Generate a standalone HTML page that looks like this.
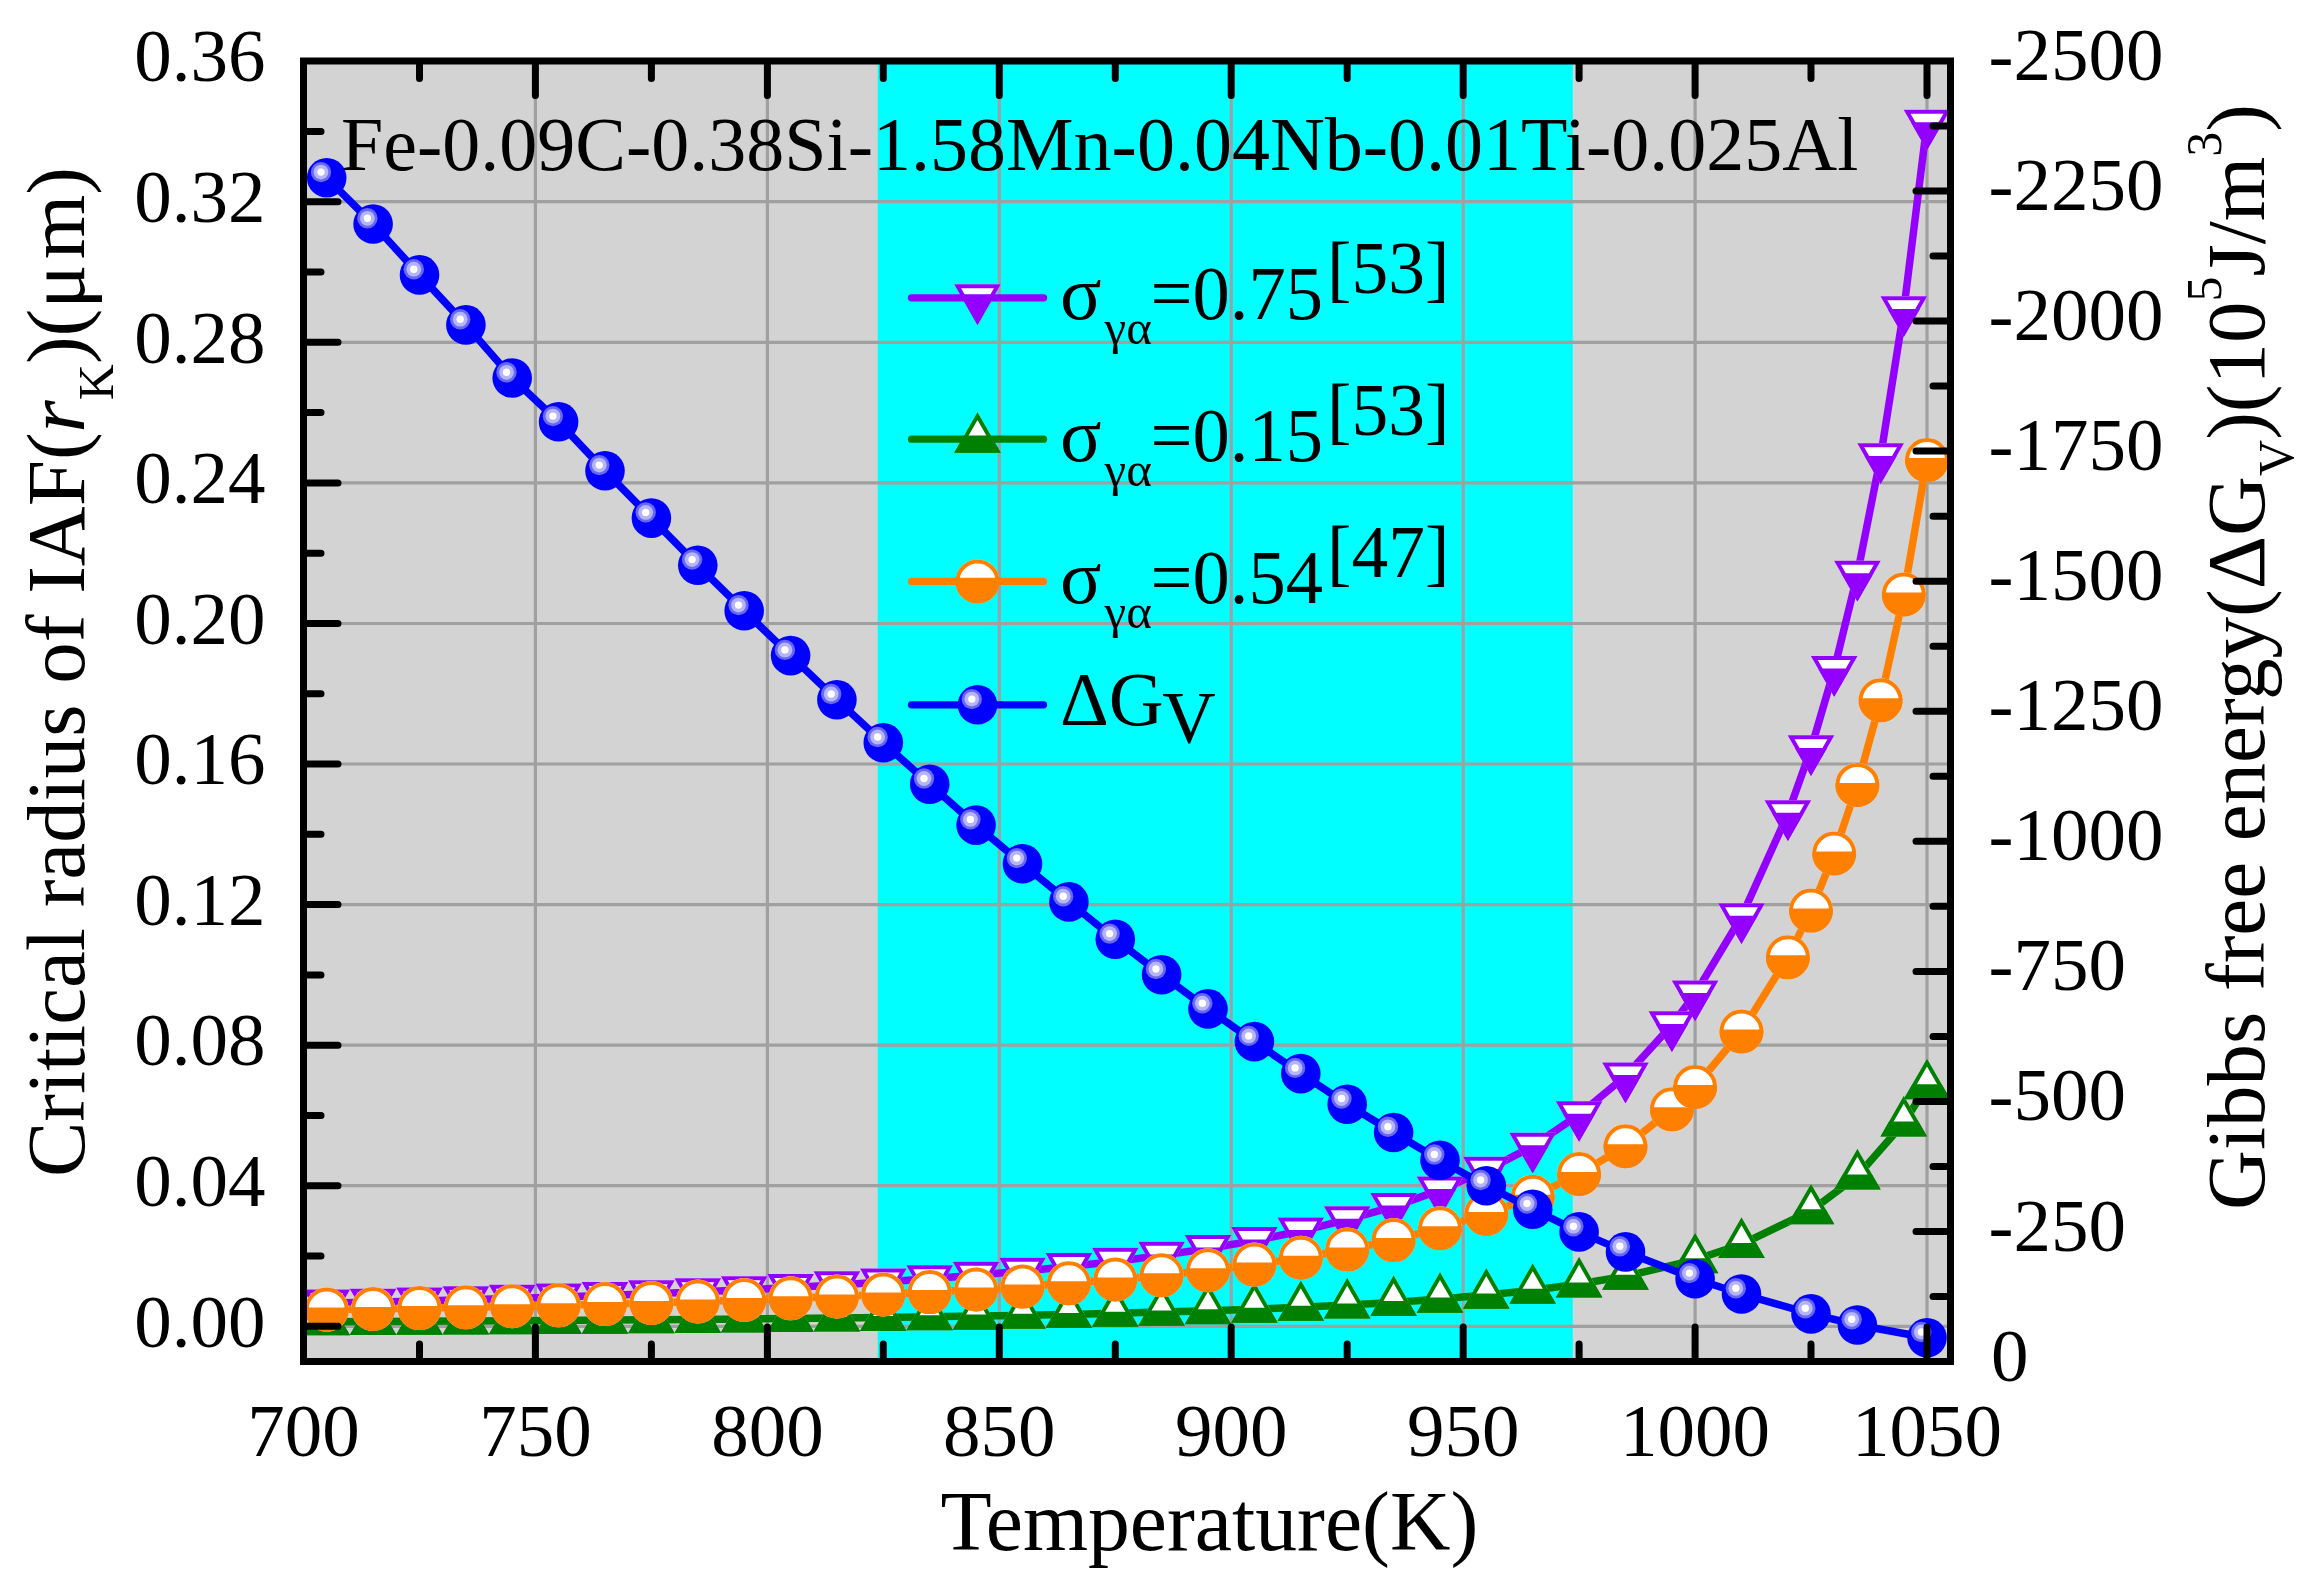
<!DOCTYPE html>
<html lang="en"><head><meta charset="utf-8"><title>Critical radius of IAF and Gibbs free energy vs temperature</title>
<style>html,body{margin:0;padding:0;background:#fff}svg{display:block}text{font-family:"Liberation Serif","DejaVu Serif",serif;fill:#000}.it{font-style:italic}</style></head><body>
<svg width="2317" height="1590" viewBox="0 0 2317 1590">
<defs>
<clipPath id="pc"><rect x="303.5" y="61.0" width="1647.0" height="1300.5"/></clipPath>
<g id="mp"><path d="M-23.30,-13.57L23.30,-13.57L0,27.13Z" fill="#fff"/><path d="M-16.11,-1L16.11,-1L0,27.13Z" fill="#9400ff"/><path d="M-19.90,-11.57L19.90,-11.57L0,23.13Z" fill="none" stroke="#9400ff" stroke-width="4" stroke-linejoin="miter"/></g>
<g id="mg"><path d="M-23.30,13.57L23.30,13.57L0,-27.13Z" fill="#fff"/><path d="M-14.67,-1.5L14.67,-1.5L23.30,13.57L-23.30,13.57Z" fill="#008000"/><path d="M-19.90,11.57L19.90,11.57L0,-23.13Z" fill="none" stroke="#008000" stroke-width="4" stroke-linejoin="miter"/></g>
<g id="mo"><circle r="22.0" fill="#fff"/><path d="M-21.91,-2.0A22.0,22.0 0 1 0 21.91,-2.0Z" fill="#ff8000"/><circle r="20.0" fill="none" stroke="#ff8000" stroke-width="4"/></g>
<g id="mb"><circle r="19.8" fill="#0000ff"/><circle cx="-5.7" cy="-5.7" r="10.2" fill="#6868f0"/><circle cx="-5.7" cy="-5.7" r="7.4" fill="#b4b4ff"/><circle cx="-5.7" cy="-5.7" r="3.7" fill="#fff"/></g>
</defs>
<rect x="303.5" y="61.0" width="1647.0" height="1300.5" fill="#d3d3d3"/>
<rect x="877.7" y="61.0" width="695.1" height="1300.5" fill="#00ffff"/>
<path d="M535.4,61.0V1361.5M767.4,61.0V1361.5M999.3,61.0V1361.5M1231.2,61.0V1361.5M1463.2,61.0V1361.5M1695.1,61.0V1361.5M1927.0,61.0V1361.5M303.5,1326.3H1950.5M303.5,1185.7H1950.5M303.5,1045.2H1950.5M303.5,904.6H1950.5M303.5,764.0H1950.5M303.5,623.5H1950.5M303.5,482.9H1950.5M303.5,342.3H1950.5M303.5,201.7H1950.5" stroke="#a0a0a0" stroke-width="3.2" fill="none"/>
<g clip-path="url(#pc)">
<path d="M326.7,1303.1L373.1,1302.2L419.5,1301.1L465.9,1299.8L512.2,1298.4L558.6,1297.1L605.0,1295.5L651.4,1293.8L697.8,1291.9L744.2,1289.8L790.6,1287.5L836.9,1284.9L883.3,1282.0L929.7,1278.8L976.1,1275.2L1022.5,1271.2L1068.9,1266.6L1115.3,1261.4L1161.6,1255.4L1208.0,1248.5L1254.4,1240.6L1300.8,1231.1L1347.2,1219.7L1393.6,1206.6L1440.0,1190.1L1486.3,1170.3L1532.7,1146.2L1579.1,1114.7L1625.5,1076.1L1671.9,1024.9L1695.1,994.0L1741.5,916.8L1787.9,813.8L1811.0,748.9L1834.2,669.6L1857.4,574.3L1880.6,456.9L1903.8,309.9L1927.0,123.2" fill="none" stroke="#9400ff" stroke-width="7.5" stroke-linejoin="round"/><use href="#mp" x="326.7" y="1303.1"/><use href="#mp" x="373.1" y="1302.2"/><use href="#mp" x="419.5" y="1301.1"/><use href="#mp" x="465.9" y="1299.8"/><use href="#mp" x="512.2" y="1298.4"/><use href="#mp" x="558.6" y="1297.1"/><use href="#mp" x="605.0" y="1295.5"/><use href="#mp" x="651.4" y="1293.8"/><use href="#mp" x="697.8" y="1291.9"/><use href="#mp" x="744.2" y="1289.8"/><use href="#mp" x="790.6" y="1287.5"/><use href="#mp" x="836.9" y="1284.9"/><use href="#mp" x="883.3" y="1282.0"/><use href="#mp" x="929.7" y="1278.8"/><use href="#mp" x="976.1" y="1275.2"/><use href="#mp" x="1022.5" y="1271.2"/><use href="#mp" x="1068.9" y="1266.6"/><use href="#mp" x="1115.3" y="1261.4"/><use href="#mp" x="1161.6" y="1255.4"/><use href="#mp" x="1208.0" y="1248.5"/><use href="#mp" x="1254.4" y="1240.6"/><use href="#mp" x="1300.8" y="1231.1"/><use href="#mp" x="1347.2" y="1219.7"/><use href="#mp" x="1393.6" y="1206.6"/><use href="#mp" x="1440.0" y="1190.1"/><use href="#mp" x="1486.3" y="1170.3"/><use href="#mp" x="1532.7" y="1146.2"/><use href="#mp" x="1579.1" y="1114.7"/><use href="#mp" x="1625.5" y="1076.1"/><use href="#mp" x="1671.9" y="1024.9"/><use href="#mp" x="1695.1" y="994.0"/><use href="#mp" x="1741.5" y="916.8"/><use href="#mp" x="1787.9" y="813.8"/><use href="#mp" x="1811.0" y="748.9"/><use href="#mp" x="1834.2" y="669.6"/><use href="#mp" x="1857.4" y="574.3"/><use href="#mp" x="1880.6" y="456.9"/><use href="#mp" x="1903.8" y="309.9"/><use href="#mp" x="1927.0" y="123.2"/>
<path d="M326.7,1321.7L373.1,1321.5L419.5,1321.3L465.9,1321.0L512.2,1320.7L558.6,1320.5L605.0,1320.1L651.4,1319.8L697.8,1319.4L744.2,1319.0L790.6,1318.5L836.9,1318.0L883.3,1317.4L929.7,1316.8L976.1,1316.1L1022.5,1315.3L1068.9,1314.4L1115.3,1313.3L1161.6,1312.1L1208.0,1310.7L1254.4,1309.2L1300.8,1307.3L1347.2,1305.0L1393.6,1302.4L1440.0,1299.1L1486.3,1295.1L1532.7,1290.3L1579.1,1284.0L1625.5,1276.3L1695.1,1259.8L1741.5,1244.4L1811.0,1210.8L1857.4,1175.9L1903.8,1123.0L1927.0,1085.7" fill="none" stroke="#008000" stroke-width="7.5" stroke-linejoin="round"/><use href="#mg" x="326.7" y="1321.7"/><use href="#mg" x="373.1" y="1321.5"/><use href="#mg" x="419.5" y="1321.3"/><use href="#mg" x="465.9" y="1321.0"/><use href="#mg" x="512.2" y="1320.7"/><use href="#mg" x="558.6" y="1320.5"/><use href="#mg" x="605.0" y="1320.1"/><use href="#mg" x="651.4" y="1319.8"/><use href="#mg" x="697.8" y="1319.4"/><use href="#mg" x="744.2" y="1319.0"/><use href="#mg" x="790.6" y="1318.5"/><use href="#mg" x="836.9" y="1318.0"/><use href="#mg" x="883.3" y="1317.4"/><use href="#mg" x="929.7" y="1316.8"/><use href="#mg" x="976.1" y="1316.1"/><use href="#mg" x="1022.5" y="1315.3"/><use href="#mg" x="1068.9" y="1314.4"/><use href="#mg" x="1115.3" y="1313.3"/><use href="#mg" x="1161.6" y="1312.1"/><use href="#mg" x="1208.0" y="1310.7"/><use href="#mg" x="1254.4" y="1309.2"/><use href="#mg" x="1300.8" y="1307.3"/><use href="#mg" x="1347.2" y="1305.0"/><use href="#mg" x="1393.6" y="1302.4"/><use href="#mg" x="1440.0" y="1299.1"/><use href="#mg" x="1486.3" y="1295.1"/><use href="#mg" x="1532.7" y="1290.3"/><use href="#mg" x="1579.1" y="1284.0"/><use href="#mg" x="1625.5" y="1276.3"/><use href="#mg" x="1695.1" y="1259.8"/><use href="#mg" x="1741.5" y="1244.4"/><use href="#mg" x="1811.0" y="1210.8"/><use href="#mg" x="1857.4" y="1175.9"/><use href="#mg" x="1903.8" y="1123.0"/><use href="#mg" x="1927.0" y="1085.7"/>
<path d="M326.7,1309.6L373.1,1308.9L419.5,1308.1L465.9,1307.3L512.2,1306.2L558.6,1305.3L605.0,1304.1L651.4,1302.9L697.8,1301.5L744.2,1300.0L790.6,1298.3L836.9,1296.5L883.3,1294.4L929.7,1292.1L976.1,1289.5L1022.5,1286.6L1068.9,1283.3L1115.3,1279.5L1161.6,1275.3L1208.0,1270.3L1254.4,1264.6L1300.8,1257.7L1347.2,1249.6L1393.6,1240.1L1440.0,1228.2L1486.3,1214.0L1532.7,1196.7L1579.1,1174.0L1625.5,1146.2L1671.9,1109.3L1695.1,1087.0L1741.5,1031.5L1787.9,957.3L1811.0,910.6L1834.2,853.5L1857.4,784.9L1880.6,700.3L1903.8,594.5L1927.0,460.1" fill="none" stroke="#ff8000" stroke-width="7.5" stroke-linejoin="round"/><use href="#mo" x="326.7" y="1309.6"/><use href="#mo" x="373.1" y="1308.9"/><use href="#mo" x="419.5" y="1308.1"/><use href="#mo" x="465.9" y="1307.3"/><use href="#mo" x="512.2" y="1306.2"/><use href="#mo" x="558.6" y="1305.3"/><use href="#mo" x="605.0" y="1304.1"/><use href="#mo" x="651.4" y="1302.9"/><use href="#mo" x="697.8" y="1301.5"/><use href="#mo" x="744.2" y="1300.0"/><use href="#mo" x="790.6" y="1298.3"/><use href="#mo" x="836.9" y="1296.5"/><use href="#mo" x="883.3" y="1294.4"/><use href="#mo" x="929.7" y="1292.1"/><use href="#mo" x="976.1" y="1289.5"/><use href="#mo" x="1022.5" y="1286.6"/><use href="#mo" x="1068.9" y="1283.3"/><use href="#mo" x="1115.3" y="1279.5"/><use href="#mo" x="1161.6" y="1275.3"/><use href="#mo" x="1208.0" y="1270.3"/><use href="#mo" x="1254.4" y="1264.6"/><use href="#mo" x="1300.8" y="1257.7"/><use href="#mo" x="1347.2" y="1249.6"/><use href="#mo" x="1393.6" y="1240.1"/><use href="#mo" x="1440.0" y="1228.2"/><use href="#mo" x="1486.3" y="1214.0"/><use href="#mo" x="1532.7" y="1196.7"/><use href="#mo" x="1579.1" y="1174.0"/><use href="#mo" x="1625.5" y="1146.2"/><use href="#mo" x="1671.9" y="1109.3"/><use href="#mo" x="1695.1" y="1087.0"/><use href="#mo" x="1741.5" y="1031.5"/><use href="#mo" x="1787.9" y="957.3"/><use href="#mo" x="1811.0" y="910.6"/><use href="#mo" x="1834.2" y="853.5"/><use href="#mo" x="1857.4" y="784.9"/><use href="#mo" x="1880.6" y="700.3"/><use href="#mo" x="1903.8" y="594.5"/><use href="#mo" x="1927.0" y="460.1"/>
<path d="M326.7,177.8L373.1,224.0L419.5,274.9L465.9,324.9L512.2,378.0L558.6,421.8L605.0,470.8L651.4,518.1L697.8,565.3L744.2,610.8L790.6,655.6L836.9,699.7L883.3,742.7L929.7,784.2L976.1,825.1L1022.5,863.8L1068.9,901.9L1115.3,939.3L1161.6,974.7L1208.0,1008.9L1254.4,1041.6L1300.8,1073.6L1347.2,1104.2L1393.6,1132.5L1440.0,1160.2L1486.3,1185.7L1532.7,1209.2L1579.1,1231.9L1625.5,1251.9L1695.1,1278.8L1741.5,1294.0L1811.0,1313.9L1857.4,1325.0L1927.0,1337.7" fill="none" stroke="#0000ff" stroke-width="7.5" stroke-linejoin="round"/><use href="#mb" x="326.7" y="177.8"/><use href="#mb" x="373.1" y="224.0"/><use href="#mb" x="419.5" y="274.9"/><use href="#mb" x="465.9" y="324.9"/><use href="#mb" x="512.2" y="378.0"/><use href="#mb" x="558.6" y="421.8"/><use href="#mb" x="605.0" y="470.8"/><use href="#mb" x="651.4" y="518.1"/><use href="#mb" x="697.8" y="565.3"/><use href="#mb" x="744.2" y="610.8"/><use href="#mb" x="790.6" y="655.6"/><use href="#mb" x="836.9" y="699.7"/><use href="#mb" x="883.3" y="742.7"/><use href="#mb" x="929.7" y="784.2"/><use href="#mb" x="976.1" y="825.1"/><use href="#mb" x="1022.5" y="863.8"/><use href="#mb" x="1068.9" y="901.9"/><use href="#mb" x="1115.3" y="939.3"/><use href="#mb" x="1161.6" y="974.7"/><use href="#mb" x="1208.0" y="1008.9"/><use href="#mb" x="1254.4" y="1041.6"/><use href="#mb" x="1300.8" y="1073.6"/><use href="#mb" x="1347.2" y="1104.2"/><use href="#mb" x="1393.6" y="1132.5"/><use href="#mb" x="1440.0" y="1160.2"/><use href="#mb" x="1486.3" y="1185.7"/><use href="#mb" x="1532.7" y="1209.2"/><use href="#mb" x="1579.1" y="1231.9"/><use href="#mb" x="1625.5" y="1251.9"/><use href="#mb" x="1695.1" y="1278.8"/><use href="#mb" x="1741.5" y="1294.0"/><use href="#mb" x="1811.0" y="1313.9"/><use href="#mb" x="1857.4" y="1325.0"/><use href="#mb" x="1927.0" y="1337.7"/>
</g>
<text x="341" y="170" font-size="76">Fe-0.09C-0.38Si-1.58Mn-0.04Nb-0.01Ti-0.025Al</text>
<use href="#mp" x="977.5" y="297.8"/>
<path d="M911.5,297.8H1043.5" stroke="#9400ff" stroke-width="7.3" stroke-linecap="round"/>
<text x="1060" y="319.0" font-size="77">σ<tspan font-size="49" dx="3" dy="25.4">γα</tspan><tspan font-size="76.5" x="1150.5" dy="-25.4" textLength="172.6" lengthAdjust="spacingAndGlyphs">=0.75</tspan><tspan font-size="74" x="1327" dy="-25.6" textLength="122.4" lengthAdjust="spacingAndGlyphs">[53]</tspan></text>
<use href="#mg" x="977.5" y="439.2"/>
<path d="M911.5,439.2H1043.5" stroke="#008000" stroke-width="7.3" stroke-linecap="round"/>
<text x="1060" y="460.5" font-size="77">σ<tspan font-size="49" dx="3" dy="25.4">γα</tspan><tspan font-size="76.5" x="1150.5" dy="-25.4" textLength="172.6" lengthAdjust="spacingAndGlyphs">=0.15</tspan><tspan font-size="74" x="1327" dy="-25.6" textLength="122.4" lengthAdjust="spacingAndGlyphs">[53]</tspan></text>
<use href="#mo" x="977.5" y="581.4"/>
<path d="M911.5,581.4H1043.5" stroke="#ff8000" stroke-width="7.3" stroke-linecap="round"/>
<text x="1060" y="602.9" font-size="77">σ<tspan font-size="49" dx="3" dy="25.4">γα</tspan><tspan font-size="76.5" x="1150.5" dy="-25.4" textLength="172.6" lengthAdjust="spacingAndGlyphs">=0.54</tspan><tspan font-size="74" x="1327" dy="-25.6" textLength="122.4" lengthAdjust="spacingAndGlyphs">[47]</tspan></text>
<path d="M911.5,704.8H1043.5" stroke="#0000ff" stroke-width="7.3" stroke-linecap="round"/>
<use href="#mb" x="977.5" y="704.8"/>
<text x="1060" y="724.7" font-size="76">ΔG<tspan font-size="74" dx="-1.5" dy="18">V</tspan></text>
<rect x="303.5" y="61.0" width="1647.0" height="1300.5" fill="none" stroke="#000" stroke-width="7"/>
<path d="M419.5,64.5v14.0M419.5,1358.0v-14.0M535.4,64.5v31.0M535.4,1358.0v-31.0M651.4,64.5v14.0M651.4,1358.0v-14.0M767.4,64.5v31.0M767.4,1358.0v-31.0M883.3,64.5v14.0M883.3,1358.0v-14.0M999.3,64.5v31.0M999.3,1358.0v-31.0M1115.3,64.5v14.0M1115.3,1358.0v-14.0M1231.2,64.5v31.0M1231.2,1358.0v-31.0M1347.2,64.5v14.0M1347.2,1358.0v-14.0M1463.2,64.5v31.0M1463.2,1358.0v-31.0M1579.1,64.5v14.0M1579.1,1358.0v-14.0M1695.1,64.5v31.0M1695.1,1358.0v-31.0M1811.0,64.5v14.0M1811.0,1358.0v-14.0M1927.0,64.5v31.0M1927.0,1358.0v-31.0M307.0,1326.3h31.0M307.0,1256.0h14.0M307.0,1185.7h31.0M307.0,1115.4h14.0M307.0,1045.2h31.0M307.0,974.9h14.0M307.0,904.6h31.0M307.0,834.3h14.0M307.0,764.0h31.0M307.0,693.7h14.0M307.0,623.5h31.0M307.0,553.2h14.0M307.0,482.9h31.0M307.0,412.6h14.0M307.0,342.3h31.0M307.0,272.0h14.0M307.0,201.7h31.0M307.0,131.5h14.0M1947.0,126.0h-14.0M1947.0,191.1h-31.0M1947.0,256.1h-14.0M1947.0,321.1h-31.0M1947.0,386.1h-14.0M1947.0,451.1h-31.0M1947.0,516.2h-14.0M1947.0,581.2h-31.0M1947.0,646.2h-14.0M1947.0,711.2h-31.0M1947.0,776.3h-14.0M1947.0,841.3h-31.0M1947.0,906.3h-14.0M1947.0,971.4h-31.0M1947.0,1036.4h-14.0M1947.0,1101.4h-31.0M1947.0,1166.4h-14.0M1947.0,1231.5h-31.0M1947.0,1296.5h-14.0" stroke="#000" stroke-width="7" stroke-linecap="round" fill="none"/>
<g font-size="75">
<text x="303.5" y="1456.4" text-anchor="middle">700</text>
<text x="535.4" y="1456.4" text-anchor="middle">750</text>
<text x="767.4" y="1456.4" text-anchor="middle">800</text>
<text x="999.3" y="1456.4" text-anchor="middle">850</text>
<text x="1231.2" y="1456.4" text-anchor="middle">900</text>
<text x="1463.2" y="1456.4" text-anchor="middle">950</text>
<text x="1695.1" y="1456.4" text-anchor="middle">1000</text>
<text x="1927.0" y="1456.4" text-anchor="middle">1050</text>
<text x="265.5" y="1346.5" text-anchor="end">0.00</text>
<text x="265.5" y="1205.9" text-anchor="end">0.04</text>
<text x="265.5" y="1065.4" text-anchor="end">0.08</text>
<text x="265.5" y="924.8" text-anchor="end">0.12</text>
<text x="265.5" y="784.2" text-anchor="end">0.16</text>
<text x="265.5" y="643.7" text-anchor="end">0.20</text>
<text x="265.5" y="503.1" text-anchor="end">0.24</text>
<text x="265.5" y="362.5" text-anchor="end">0.28</text>
<text x="265.5" y="221.9" text-anchor="end">0.32</text>
<text x="265.5" y="81.4" text-anchor="end">0.36</text>
<text x="1988.5" y="80.0">-2500</text>
<text x="1988.5" y="210.1">-2250</text>
<text x="1988.5" y="340.1">-2000</text>
<text x="1988.5" y="470.1">-1750</text>
<text x="1988.5" y="600.2">-1500</text>
<text x="1988.5" y="730.2">-1250</text>
<text x="1988.5" y="860.3">-1000</text>
<text x="1988.5" y="990.4">-750</text>
<text x="1988.5" y="1120.4">-500</text>
<text x="1988.5" y="1250.5">-250</text>
<text x="1991" y="1380.5">0</text>
</g>
<text x="940.5" y="1549.9" font-size="83.7">Temperature(K)</text>
<text transform="translate(83.8,1177) rotate(-90)" font-size="83">Critical radius of IAF(<tspan class="it">r</tspan><tspan font-size="50" dy="29">K</tspan><tspan dy="-29">)(μ</tspan><tspan dx="5">m)</tspan></text>
<text transform="translate(2263.9,1210) rotate(-90)" font-size="83">Gibbs free energy(ΔG<tspan font-size="50" dy="29">V</tspan><tspan dy="-29">)(10</tspan><tspan font-size="50" dy="-43">5</tspan><tspan dy="43">J/m</tspan><tspan font-size="50" dy="-43">3</tspan><tspan dy="43">)</tspan></text>
</svg></body></html>
